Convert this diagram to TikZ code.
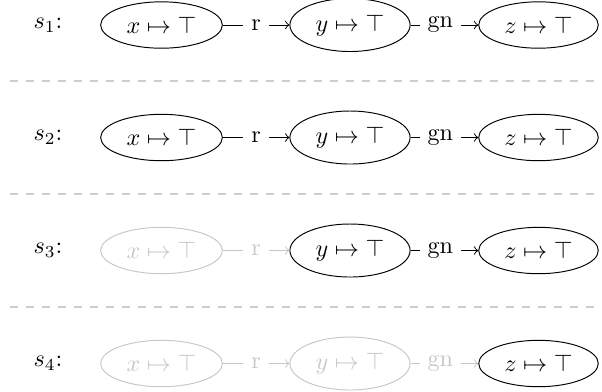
\documentclass[tikz,border=0pt]{standalone}
\usetikzlibrary{shapes.geometric}
\definecolor{fadegray}{gray}{0.78}
\definecolor{sepgray}{gray}{0.8}
\begin{document}
\begin{tikzpicture}[x=0.415pt,y=-0.415pt,
  stnode/.style={ellipse, draw, line width=0.4pt},
  faded/.style={draw=fadegray, text=fadegray},
  lbl/.style={fill=white},
  conn/.style={->, line width=0.4pt},
  fadedconn/.style={->, line width=0.4pt, draw=fadegray, text=fadegray},
  sepline/.style={draw=sepgray, line width=0.45pt, dash pattern=on 3.32pt off 3.32pt}]
\useasboundingbox (0,0) rectangle (602,391);
% separators
\coordinate (d1a) at (10,81);  \coordinate (d1b) at (602,81);
\coordinate (d2a) at (10,194); \coordinate (d2b) at (602,194);
\coordinate (d3a) at (10,307); \coordinate (d3b) at (602,307);
\draw[sepline] (d1a) -- (d1b);
\draw[sepline] (d2a) -- (d2b);
\draw[sepline] (d3a) -- (d3b);
% row 1
\node (l1) at (48,25) {$s_1$:};
\node[stnode] (x1) at (161.5,25) {$x\mapsto\top$};
\node[stnode] (y1) at (350,25) {$y\mapsto\top$};
\node[stnode] (z1) at (538.5,25) {$z\mapsto\top$};
\draw[conn] (x1) -- node[lbl,pos=0.5]{r} (y1);
\draw[conn] (y1) -- node[lbl,pos=0.44]{gn} (z1);
% row 2
\node (l2) at (48,137.5) {$s_2$:};
\node[stnode] (x2) at (161.5,137.5) {$x\mapsto\top$};
\node[stnode] (y2) at (350,137.5) {$y\mapsto\top$};
\node[stnode] (z2) at (538.5,137.5) {$z\mapsto\top$};
\draw[conn] (x2) -- node[lbl,pos=0.5]{r} (y2);
\draw[conn] (y2) -- node[lbl,pos=0.44]{gn} (z2);
% row 3
\node (l3) at (48,250.5) {$s_3$:};
\node[stnode,faded] (x3) at (161.5,250.5) {$x\mapsto\top$};
\node[stnode] (y3) at (350,250.5) {$y\mapsto\top$};
\node[stnode] (z3) at (538.5,250.5) {$z\mapsto\top$};
\draw[fadedconn] (x3) -- node[lbl,pos=0.5]{r} (y3);
\draw[conn] (y3) -- node[lbl,pos=0.44]{gn} (z3);
% row 4
\node (l4) at (48,363.5) {$s_4$:};
\node[stnode,faded] (x4) at (161.5,363.5) {$x\mapsto\top$};
\node[stnode,faded] (y4) at (350,363.5) {$y\mapsto\top$};
\node[stnode] (z4) at (538.5,363.5) {$z\mapsto\top$};
\draw[fadedconn] (x4) -- node[lbl,pos=0.5]{r} (y4);
\draw[fadedconn] (y4) -- node[lbl,pos=0.44]{gn} (z4);
\end{tikzpicture}
\end{document}
